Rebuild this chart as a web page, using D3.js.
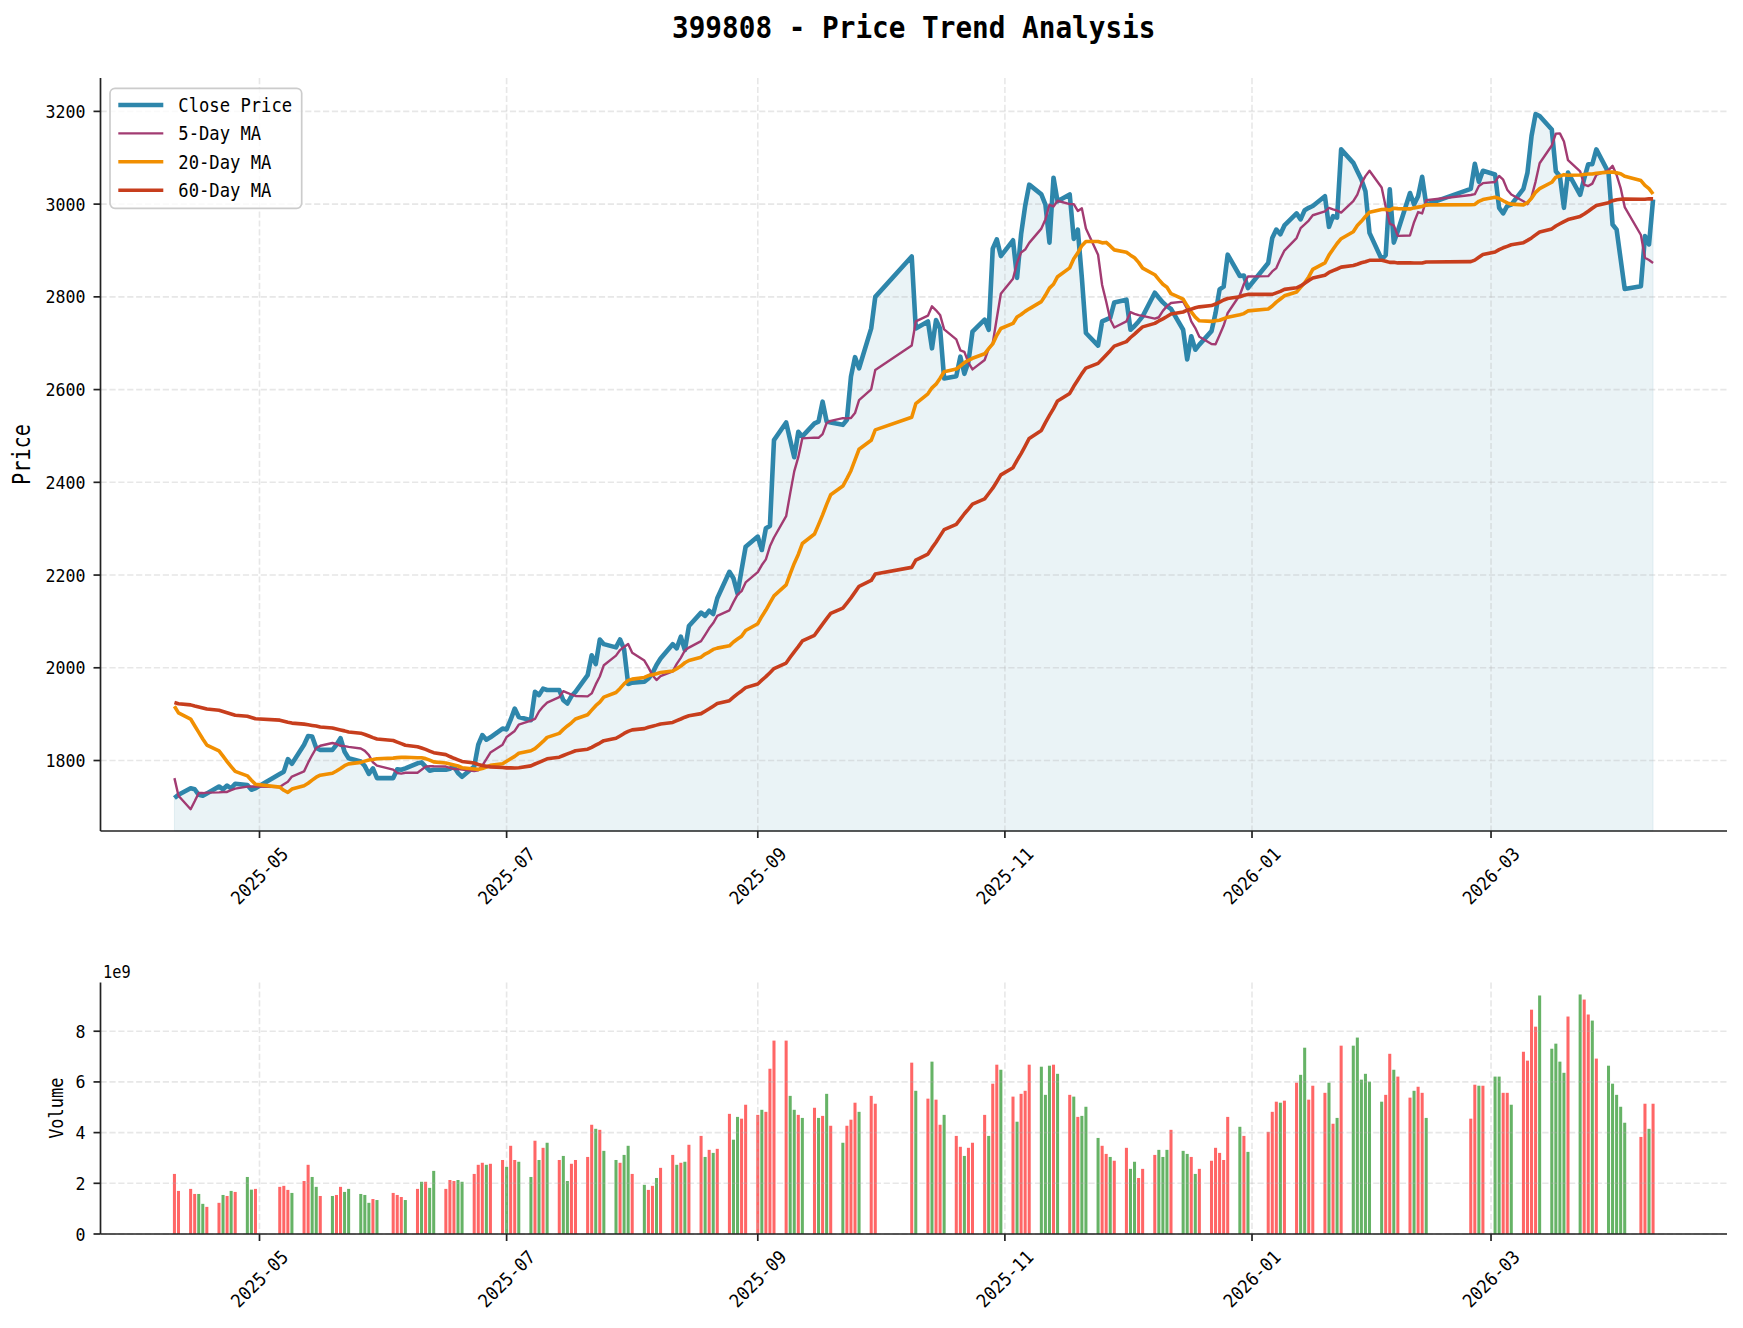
<!DOCTYPE html>
<html>
<head>
<meta charset="utf-8">
<script src="https://cdn.jsdelivr.net/npm/d3@7"></script>
<style>
  body { margin: 0; background: #fff; }
  svg { display: block; }
  text { font-family: "DejaVu Sans Mono", "Liberation Mono", monospace; fill: #000; }
</style>
</head>
<body>
<svg id="chart" width="1743" height="1328"></svg>
<script>
// ===================================================================
// DATA — 399808, daily closes / volume, 2025-04-10 .. 2026-04-10
// ===================================================================
const MONTHS = ['2025-04', '2025-05', '2025-06', '2025-07', '2025-08', '2025-09', '2025-10',
                '2025-11', '2025-12', '2026-01', '2026-02', '2026-03', '2026-04'];

const TRADE_DAYS = [
  [10, 11, 14, 15, 16, 17, 18, 21, 22, 23, 24, 25, 28, 29, 30],
  [6, 7, 8, 9, 12, 13, 14, 15, 16, 19, 20, 21, 22, 23, 26, 27, 28, 29, 30],
  [3, 4, 5, 6, 9, 10, 11, 12, 13, 16, 17, 18, 19, 20, 23, 24, 25, 26, 27, 30],
  [1, 2, 3, 4, 7, 8, 9, 10, 11, 14, 15, 16, 17, 18, 21, 22, 23, 24, 25, 28, 29, 30, 31],
  [1, 4, 5, 6, 7, 8, 11, 12, 13, 14, 15, 18, 19, 20, 21, 22, 25, 26, 27, 28, 29],
  [1, 2, 3, 4, 5, 8, 9, 10, 11, 12, 15, 16, 17, 18, 19, 22, 23, 24, 25, 26, 29, 30],
  [9, 10, 13, 14, 15, 16, 17, 20, 21, 22, 23, 24, 27, 28, 29, 30, 31],
  [3, 4, 5, 6, 7, 10, 11, 12, 13, 14, 17, 18, 19, 20, 21, 24, 25, 26, 27, 28],
  [1, 2, 3, 4, 5, 8, 9, 10, 11, 12, 15, 16, 17, 18, 19, 22, 23, 24, 25, 26, 29, 30, 31],
  [5, 6, 7, 8, 9, 12, 13, 14, 15, 16, 19, 20, 21, 22, 23, 26, 27, 28, 29, 30],
  [2, 3, 4, 5, 6, 9, 10, 11, 12, 13, 24, 25, 26, 27],
  [2, 3, 4, 5, 6, 9, 10, 11, 12, 13, 16, 17, 18, 19, 20, 23, 24, 25, 26, 27, 30, 31],
  [1, 2, 3, 7, 8, 9, 10]
];

const CLOSE = [
  [1719, 1726, 1740, 1738, 1726, 1724, 1729, 1744, 1738, 1746, 1740, 1750, 1747, 1737, 1740],
  [1771, 1776, 1803, 1793, 1834, 1853, 1852, 1827, 1823, 1823, 1834, 1848, 1819, 1805, 1798, 1788, 1771, 1783, 1762],
  [1762, 1781, 1780, 1783, 1794, 1796, 1787, 1778, 1780, 1780, 1782, 1787, 1773, 1765, 1787, 1834, 1855, 1845, 1850, 1869],
  [1867, 1888, 1912, 1894, 1887, 1948, 1941, 1955, 1952, 1952, 1930, 1923, 1939, 1948, 1984, 2027, 2008, 2061, 2051, 2044, 2061, 2040, 1965],
  [1968, 1970, 1977, 1988, 2006, 2020, 2051, 2042, 2067, 2038, 2090, 2119, 2112, 2123, 2116, 2150, 2207, 2193, 2160, 2211, 2261],
  [2283, 2254, 2301, 2306, 2491, 2529, 2491, 2454, 2509, 2499, 2527, 2531, 2574, 2531, 2529, 2524, 2535, 2628, 2670, 2646, 2732, 2800],
  [2887, 2732, 2747, 2689, 2750, 2732, 2624, 2629, 2671, 2634, 2660, 2725, 2751, 2729, 2904, 2924, 2888],
  [2922, 2841, 2935, 2996, 3042, 3021, 2999, 2917, 3057, 3006, 3021, 2925, 2945, 2841, 2722, 2695, 2747, 2751, 2755, 2788],
  [2794, 2729, 2737, 2747, 2758, 2809, 2798, 2788, 2780, 2774, 2729, 2665, 2715, 2686, 2697, 2726, 2765, 2816, 2822, 2891, 2845, 2846, 2819],
  [2873, 2927, 2945, 2935, 2954, 2980, 2967, 2987, 2992, 2996, 3017, 2951, 2974, 2971, 3118, 3089, 3071, 3053, 3028, 2938],
  [2881, 2890, 3032, 2917, 2942, 3024, 2999, 3017, 3059, 2999, 3033, 3087, 3048, 3072],
  [3064, 2992, 2980, 2996, 2999, 3033, 3068, 3147, 3194, 3190, 3161, 3071, 3060, 2992, 3068, 3020, 3055, 3086, 3086, 3118, 3068, 2956],
  [2945, 2881, 2817, 2823, 2931, 2913, 3010]
];

// volume in units of 1e9
const VOLUME = [
  [2.37, 1.70, 1.78, 1.58, 1.58, 1.19, 1.07, 1.23, 1.54, 1.50, 1.70, 1.66, 2.25, 1.75, 1.78],
  [1.86, 1.90, 1.74, 1.62, 2.09, 2.73, 2.25, 1.86, 1.50, 1.50, 1.54, 1.86, 1.66, 1.78, 1.58, 1.54, 1.23, 1.38, 1.34],
  [1.62, 1.54, 1.46, 1.34, 1.78, 2.06, 2.06, 1.82, 2.49, 1.78, 2.13, 2.09, 2.13, 2.06, 2.37, 2.73, 2.81, 2.73, 2.77, 2.92],
  [2.65, 3.48, 2.92, 2.85, 2.25, 3.68, 2.92, 3.40, 3.60, 2.92, 3.08, 2.09, 2.77, 2.92, 3.04, 4.31, 4.15, 4.11, 3.28, 2.92, 2.81, 3.12, 3.48],
  [2.37, 1.94, 1.74, 1.90, 2.21, 2.61, 3.12, 2.73, 2.81, 2.85, 3.52, 3.87, 3.04, 3.32, 3.20, 3.36, 4.74, 3.72, 4.62, 4.55, 5.10],
  [4.70, 4.90, 4.82, 6.52, 7.63, 7.63, 5.45, 4.90, 4.70, 4.58, 4.98, 4.58, 4.66, 5.53, 4.27, 3.60, 4.27, 4.51, 5.18, 4.82, 5.45, 5.14],
  [6.76, 5.65, 5.34, 6.80, 5.30, 4.31, 4.70, 3.87, 3.44, 3.08, 3.40, 3.60, 4.70, 3.87, 5.93, 6.68, 6.48],
  [5.42, 4.43, 5.53, 5.65, 6.68, 6.60, 5.49, 6.64, 6.68, 6.32, 5.49, 5.42, 4.62, 4.66, 5.02, 3.79, 3.48, 3.16, 3.04, 2.89],
  [3.40, 2.57, 2.85, 2.21, 2.57, 3.12, 3.32, 3.04, 3.32, 4.11, 3.28, 3.16, 3.04, 2.37, 2.57, 2.89, 3.40, 3.20, 2.92, 4.62, 4.23, 3.87, 3.24],
  [4.03, 4.82, 5.22, 5.18, 5.26, 5.97, 6.28, 7.35, 5.30, 5.85, 5.57, 5.97, 4.35, 4.58, 7.43, 7.43, 7.75, 6.09, 6.32, 6.01],
  [5.22, 5.49, 7.11, 6.48, 6.21, 5.38, 5.65, 5.81, 5.57, 4.58, 4.55, 5.89, 5.85, 5.85],
  [6.21, 6.21, 5.57, 5.57, 5.10, 7.19, 6.84, 8.85, 8.18, 9.41, 7.31, 7.51, 6.80, 6.36, 8.58, 9.45, 9.25, 8.66, 8.42, 6.92, 6.64, 5.93],
  [5.49, 5.02, 4.39, 3.83, 5.14, 4.15, 5.14]
];

// bar colour per day: R = up day (red), G = down day (green)
const BAR_COLOR = [
  'RRRRGGRRGRGRGGR',
  'RRRGRRGGRGRRGGGGGRG',
  'RRRGRGRGGRRRGGRRRGRR',
  'GRRGGRGRGRGGRRRRGRGGRGG',
  'RGRRGRRGRGRRGRGRRGGRR',
  'RGRRRRGGRGRGRGRGRRRGRR',
  'RGRGRRGRRGRRRGRRG',
  'RGRRRGGGRGRGRGGGRRGR',
  'RGGRRRGGGRGGRGRRRRRRGRG',
  'RRRGRRGGRRRGRGRGGGGG',
  'GRRGRRGRRGRRGR',
  'GGRRGRRRRGGGGGRGRRGRGG',
  'GGGRRGR'
];

// closes of the 60 sessions before the window (2025-01-07 .. 2025-04-09),
// estimated from where the 5/20/60-day averages start in the picture
const PRIOR_CLOSE = [
  1875, 1870, 1880, 1865, 1850, 1875, 1890, 1895, 1900, 1905, 1900, 1895, 1900, 1905, 1915,
  1905, 1910, 1915, 1925, 1920, 1935, 1940, 1950, 1945, 1955, 1960, 1965, 1955, 1965, 1975, 1980, 1975, 1960,
  1960, 1970, 1980, 1985, 1975, 1965, 1970,
  2005, 1990, 2030, 2025, 2010, 1985, 1980, 1975, 1970, 1960, 1950, 1940, 1935, 1915, 1860,
  1909, 1871, 1655, 1648, 1727
];

const PRICE_LIMITS = [1648, 3272];
const PRICE_TICKS = [1800, 2000, 2200, 2400, 2600, 2800, 3000, 3200];
const VOLUME_TICKS = [0, 2, 4, 6, 8];
const X_TICK_MONTHS = ['2025-05', '2025-07', '2025-09', '2025-11', '2026-01', '2026-03'];

const SERIES = [
  { key: 'close', label: 'Close Price', color: '#2E86AB', width: 4.6 },
  { key: 'ma5',   label: '5-Day MA',    color: '#A23B72', width: 2.4 },
  { key: 'ma20',  label: '20-Day MA',   color: '#F18F01', width: 3.6 },
  { key: 'ma60',  label: '60-Day MA',   color: '#C73E1D', width: 3.6 }
];

// ===================================================================
// BUILD ROWS + MOVING AVERAGES
// ===================================================================
const parseMonth = d3.timeParse('%Y-%m');
const rows = [];
MONTHS.forEach((m, mi) => {
  const base = parseMonth(m);
  TRADE_DAYS[mi].forEach((day, di) => {
    rows.push({
      date: new Date(base.getFullYear(), base.getMonth(), day),
      close: CLOSE[mi][di],
      volume: VOLUME[mi][di] * 1e9,
      up: BAR_COLOR[mi][di] === 'R'
    });
  });
});

// the averages in the picture trail the close by one session
// (each day shows the mean of the k closes before it)
const history = PRIOR_CLOSE.concat(rows.map(r => r.close));
const movingAvg = (k, i) => {
  const end = i + PRIOR_CLOSE.length;
  return d3.mean(history.slice(end - k, end));
};
rows.forEach((r, i) => {
  r.ma5 = movingAvg(5, i);
  r.ma20 = movingAvg(20, i);
  r.ma60 = movingAvg(60, i);
});

// ===================================================================
// LAYOUT
// ===================================================================
const LEFT = 100.5, RIGHT = 1727;
const P_TOP = 78, P_BOTTOM = 831;
const V_TOP = 982.5, V_BOTTOM = 1234;
const GRID = '#b0b0b0';
const SPINE = '#222';

const svg = d3.select('#chart');

const first = rows[0].date, last = rows[rows.length - 1].date;
const pad = (last - first) * 0.05;
const x = d3.scaleTime()
  .domain([new Date(+first - pad), new Date(+last + pad)])
  .range([LEFT, RIGHT]);
const dayPx = x(new Date(+first + 864e5)) - x(first);

const yPrice = d3.scaleLinear().domain(PRICE_LIMITS).range([P_BOTTOM, P_TOP]);
const yVol = d3.scaleLinear()
  .domain([0, d3.max(rows, r => r.volume) * 1.05])
  .range([V_BOTTOM, V_TOP]);

const xTicks = X_TICK_MONTHS.map(parseMonth);

// SimHei-like text: fixed advance per character
function fit(sel, size, adv) {
  sel.style('font-size', size + 'px').each(function () {
    d3.select(this)
      .attr('textLength', this.textContent.length * adv)
      .attr('lengthAdjust', 'spacingAndGlyphs');
  });
  return sel;
}

function drawGrid(g, y, top, bottom, yTicks) {
  const grid = g.append('g')
    .attr('stroke', GRID).attr('stroke-opacity', 0.3)
    .attr('stroke-width', 1.6).attr('stroke-dasharray', '6.2,2.7');
  grid.selectAll('.gx').data(xTicks).join('line')
    .attr('x1', d => x(d)).attr('x2', d => x(d))
    .attr('y1', top).attr('y2', bottom);
  grid.selectAll('.gy').data(yTicks).join('line')
    .attr('x1', LEFT).attr('x2', RIGHT)
    .attr('y1', d => y(d)).attr('y2', d => y(d));
}

function drawAxes(g, y, top, bottom, yTicks, yFmt) {
  const ax = g.append('g');
  ax.append('line').attr('x1', LEFT).attr('x2', LEFT).attr('y1', top).attr('y2', bottom)
    .attr('stroke', SPINE).attr('stroke-width', 1.7);
  ax.append('line').attr('x1', LEFT).attr('x2', RIGHT).attr('y1', bottom).attr('y2', bottom)
    .attr('stroke', SPINE).attr('stroke-width', 1.7);

  ax.selectAll('.ty').data(yTicks).join('line')
    .attr('x1', LEFT - 7).attr('x2', LEFT)
    .attr('y1', d => y(d)).attr('y2', d => y(d))
    .attr('stroke', SPINE).attr('stroke-width', 1.7);
  fit(ax.selectAll('.ly').data(yTicks).join('text')
    .attr('x', LEFT - 15).attr('y', d => y(d))
    .attr('text-anchor', 'end').attr('dominant-baseline', 'central')
    .text(yFmt), 18.5, 10);

  ax.selectAll('.tx').data(xTicks).join('line')
    .attr('x1', d => x(d)).attr('x2', d => x(d))
    .attr('y1', bottom).attr('y2', bottom + 7)
    .attr('stroke', SPINE).attr('stroke-width', 1.7);
  fit(ax.selectAll('.lx').data(xTicks).join('text')
    .attr('text-anchor', 'middle').attr('dominant-baseline', 'central')
    .attr('transform', d => `translate(${x(d)},${bottom + 45}) rotate(-45)`)
    .text(d3.timeFormat('%Y-%m')), 18.5, 10.2);
}

// ===================================================================
// PRICE PANEL
// ===================================================================
const pg = svg.append('g');

pg.append('path')
  .datum(rows)
  .attr('fill', '#2E86AB').attr('fill-opacity', 0.1)
  .attr('stroke', '#2E86AB').attr('stroke-opacity', 0.1).attr('stroke-width', 1)
  .attr('d', d3.area().x(d => x(d.date)).y0(P_BOTTOM).y1(d => yPrice(d.close)));

drawGrid(pg, yPrice, P_TOP, P_BOTTOM, PRICE_TICKS);

SERIES.forEach(s => {
  pg.append('path')
    .datum(rows)
    .attr('fill', 'none')
    .attr('stroke', s.color)
    .attr('stroke-width', s.width)
    .attr('stroke-linejoin', 'round')
    .attr('stroke-linecap', 'butt')
    .attr('d', d3.line().x(d => x(d.date)).y(d => yPrice(d[s.key])));
});

drawAxes(pg, yPrice, P_TOP, P_BOTTOM, PRICE_TICKS, d3.format('d'));

// legend
const lg = pg.append('g').attr('transform', 'translate(110,88.3)');
lg.append('rect')
  .attr('width', 191.7).attr('height', 120).attr('rx', 5)
  .attr('fill', '#fff').attr('fill-opacity', 0.8)
  .attr('stroke', '#cccccc').attr('stroke-width', 1.7);
SERIES.forEach((s, i) => {
  const yy = 16.7 + i * 28.4;
  lg.append('line')
    .attr('x1', 8.3).attr('x2', 53.3).attr('y1', yy).attr('y2', yy)
    .attr('stroke', s.color).attr('stroke-width', s.width);
  fit(lg.append('text')
    .attr('x', 68.3).attr('y', yy).attr('dominant-baseline', 'central')
    .text(s.label), 19, 10.35);
});

fit(pg.append('text')
  .attr('transform', `translate(22,${(P_TOP + P_BOTTOM) / 2}) rotate(-90)`)
  .attr('text-anchor', 'middle').attr('dominant-baseline', 'central')
  .text('Price'), 24, 12.2);

// ===================================================================
// VOLUME PANEL
// ===================================================================
const vg = svg.append('g');
const barW = dayPx * 0.75;

vg.selectAll('.bar').data(rows).join('rect')
  .attr('x', d => x(d.date) - barW / 2)
  .attr('width', barW)
  .attr('y', d => yVol(d.volume))
  .attr('height', d => V_BOTTOM - yVol(d.volume))
  .attr('fill', d => d.up ? '#ff6666' : '#66b366');

drawGrid(vg, yVol, V_TOP, V_BOTTOM, VOLUME_TICKS.map(v => v * 1e9));
drawAxes(vg, yVol, V_TOP, V_BOTTOM, VOLUME_TICKS.map(v => v * 1e9), d => d3.format('d')(d / 1e9));

fit(vg.append('text')
  .attr('x', 103).attr('y', 971.5).attr('dominant-baseline', 'central')
  .text('1e9'), 17.5, 9.2);

fit(vg.append('text')
  .attr('transform', `translate(55.6,${(V_TOP + V_BOTTOM) / 2}) rotate(-90)`)
  .attr('text-anchor', 'middle').attr('dominant-baseline', 'central')
  .text('Volume'), 19, 10.2);

// ===================================================================
// TITLE
// ===================================================================
fit(svg.append('text')
  .attr('x', (LEFT + RIGHT) / 2).attr('y', 27)
  .attr('text-anchor', 'middle').attr('dominant-baseline', 'central')
  .style('font-weight', 'bold')
  .text('399808 - Price Trend Analysis'), 30, 16.67);
</script>
</body>
</html>
